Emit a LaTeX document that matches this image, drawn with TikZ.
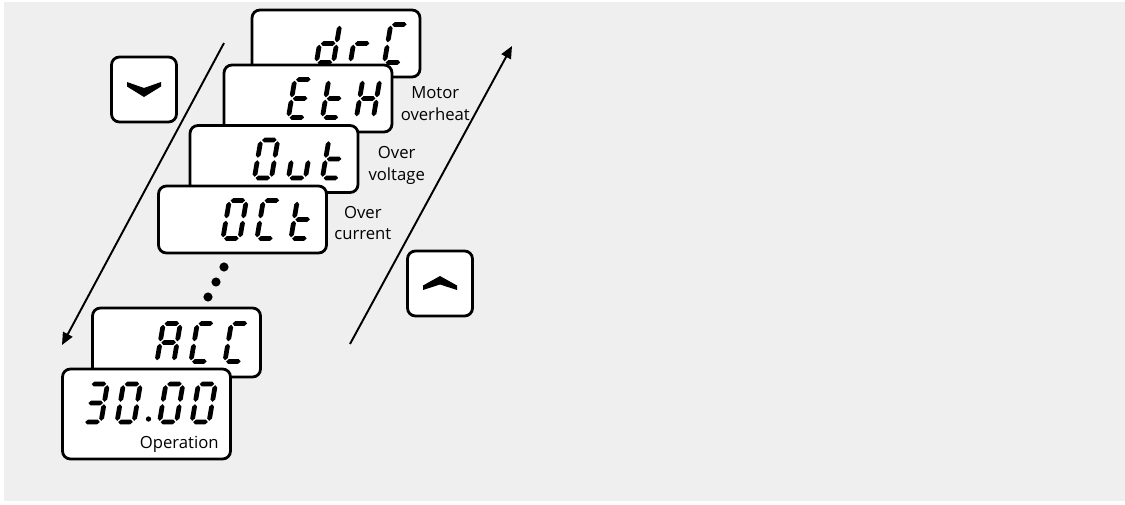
\documentclass[tikz,border=0pt]{standalone}
\usepackage{fontspec}
\setmainfont{Open Sans}
\usetikzlibrary{arrows.meta, positioning, calc}
\definecolor{panelgray}{RGB}{239, 239, 239}

% seven segment parts (local units, v pointing up)
\newcommand{\hseg}[1]{\fill (1.2,#1) -- (3.6,#1+2.4) -- (13.4,#1+2.4) -- (15.8,#1) -- (13.4,#1-2.4) -- (3.6,#1-2.4) -- cycle;}
\newcommand{\vseg}[2]{\fill (#1,#2+1.2) -- (#1+2.4,#2+3.6) -- (#1+2.4,#2+15.4) -- (#1,#2+17.8) -- (#1-2.4,#2+15.4) -- (#1-2.4,#2+3.6) -- cycle;}
\newcommand{\segparta}{\hseg{38}}
\newcommand{\segpartb}{\vseg{17}{19}}
\newcommand{\segpartc}{\vseg{17}{0}}
\newcommand{\segpartd}{\hseg{0}}
\newcommand{\segparte}{\vseg{0}{0}}
\newcommand{\segpartf}{\vseg{0}{19}}
\newcommand{\segpartg}{\hseg{19}}

% glyphs
\newcommand{\glyd}{b,c,d,e,g}
\newcommand{\glyr}{e,g}
\newcommand{\glyC}{a,d,e,f}
\newcommand{\glyE}{a,d,e,f,g}
\newcommand{\glyt}{d,e,f,g}
\newcommand{\glyH}{b,c,e,f,g}
\newcommand{\glyO}{a,b,c,d,e,f}
\newcommand{\glyu}{c,d,e}
\newcommand{\glyA}{a,b,c,e,f,g}
\newcommand{\glythree}{a,b,c,d,g}

\newcommand{\segchar}[3]{%
  \begin{scope}[shift={(#1,#2)}, xslant=0.17, yscale=-1]
    \edef\seglist{#3}%
    \foreach \s in \seglist {\csname segpart\s\endcsname}
  \end{scope}}

\newcommand{\segrow}[4]{%
  \begin{scope}[shift={(#1.east)}]
    \segchar{-105}{19}{#2}
    \segchar{-71}{19}{#3}
    \segchar{-37}{19}{#4}
  \end{scope}}

\begin{document}
\begin{tikzpicture}[x=0.02cm, y=-0.02cm,
    display/.style={draw, line width=1.6pt, fill=white, rounded corners=4.5pt, minimum width=3.36cm, minimum height=1.34cm, inner sep=0pt},
    keybtn/.style={draw, line width=1.6pt, fill=white, rounded corners=4.5pt, minimum size=1.3cm, inner sep=0pt},
    flowarrow/.style={line width=1.1pt, -{Triangle[length=7pt, width=6pt]}},
    note/.style={font=\fontsize{9.5}{12.5}\selectfont, align=center, inner sep=0pt}]

    \useasboundingbox (0,0) rectangle (1125,504);
    \fill[panelgray] (4,2) rectangle (1125,501);

    % --- Scroll arrows ---
    \coordinate (dnstart) at (224,43);
    \coordinate (dnend) at (62,345);
    \draw[flowarrow] (dnstart) -- (dnend);
    \coordinate (upstart) at (350,344);
    \coordinate (upend) at (512,46);
    \draw[flowarrow] (upstart) -- (upend);

    % --- Keys ---
    \node[keybtn] (dnkey) at (144,89.5) {};
    \fill[shift={(dnkey.center)}] (-17,-7.5) -- (0,-1.5) -- (17,-7.5) -- (17,-3) -- (0,7.5) -- (-17,-3) -- cycle;
    \node[keybtn] (upkey) at (440,283.5) {};
    \fill[shift={(upkey.center)}] (-17,6.5) -- (0,1) -- (17,6.5) -- (17,2) -- (0,-7.5) -- (-17,2) -- cycle;

    % --- Trip displays ---
    \node[display] (drc) at (336,43.5) {};
    \segrow{drc}{\glyd}{\glyr}{\glyC}
    \node[display] (eth) at (308,98.5) {};
    \segrow{eth}{\glyE}{\glyt}{\glyH}
    \node[display] (out) at (274,159) {};
    \segrow{out}{\glyO}{\glyu}{\glyt}
    \node[display] (oct) at (242.5,219.5) {};
    \segrow{oct}{\glyO}{\glyC}{\glyt}

    \node[note, right=4pt of eth, yshift=-3pt] (ethlbl) {Motor\\overheat};
    \node[note, right=5pt of out, yshift=-3.5pt] (outlbl) {Over\\voltage};
    \node[note, right=3.5pt of oct, yshift=-2pt] (octlbl) {Over\\current};

    % --- More entries ---
    \foreach \p in {(224,267), (216,282), (208,297)}
        \fill \p circle[radius=2.6pt];

    \node[display, minimum height=1.38cm] (acc) at (176.5,342.5) {};
    \segrow{acc}{\glyA}{\glyC}{\glyC}

    % --- Operation display ---
    \node[display, minimum height=1.8cm] (op) at (146.5,414) {};
    \segchar{84}{422}{\glythree}
    \segchar{117}{422}{\glyO}
    \fill (148.5,419) circle[radius=1.5pt];
    \segchar{159.5}{422}{\glyO}
    \segchar{192}{422}{\glyO}
    \node[note, anchor=base east] (oplbl) at (219,448) {Operation};

\end{tikzpicture}
\end{document}
